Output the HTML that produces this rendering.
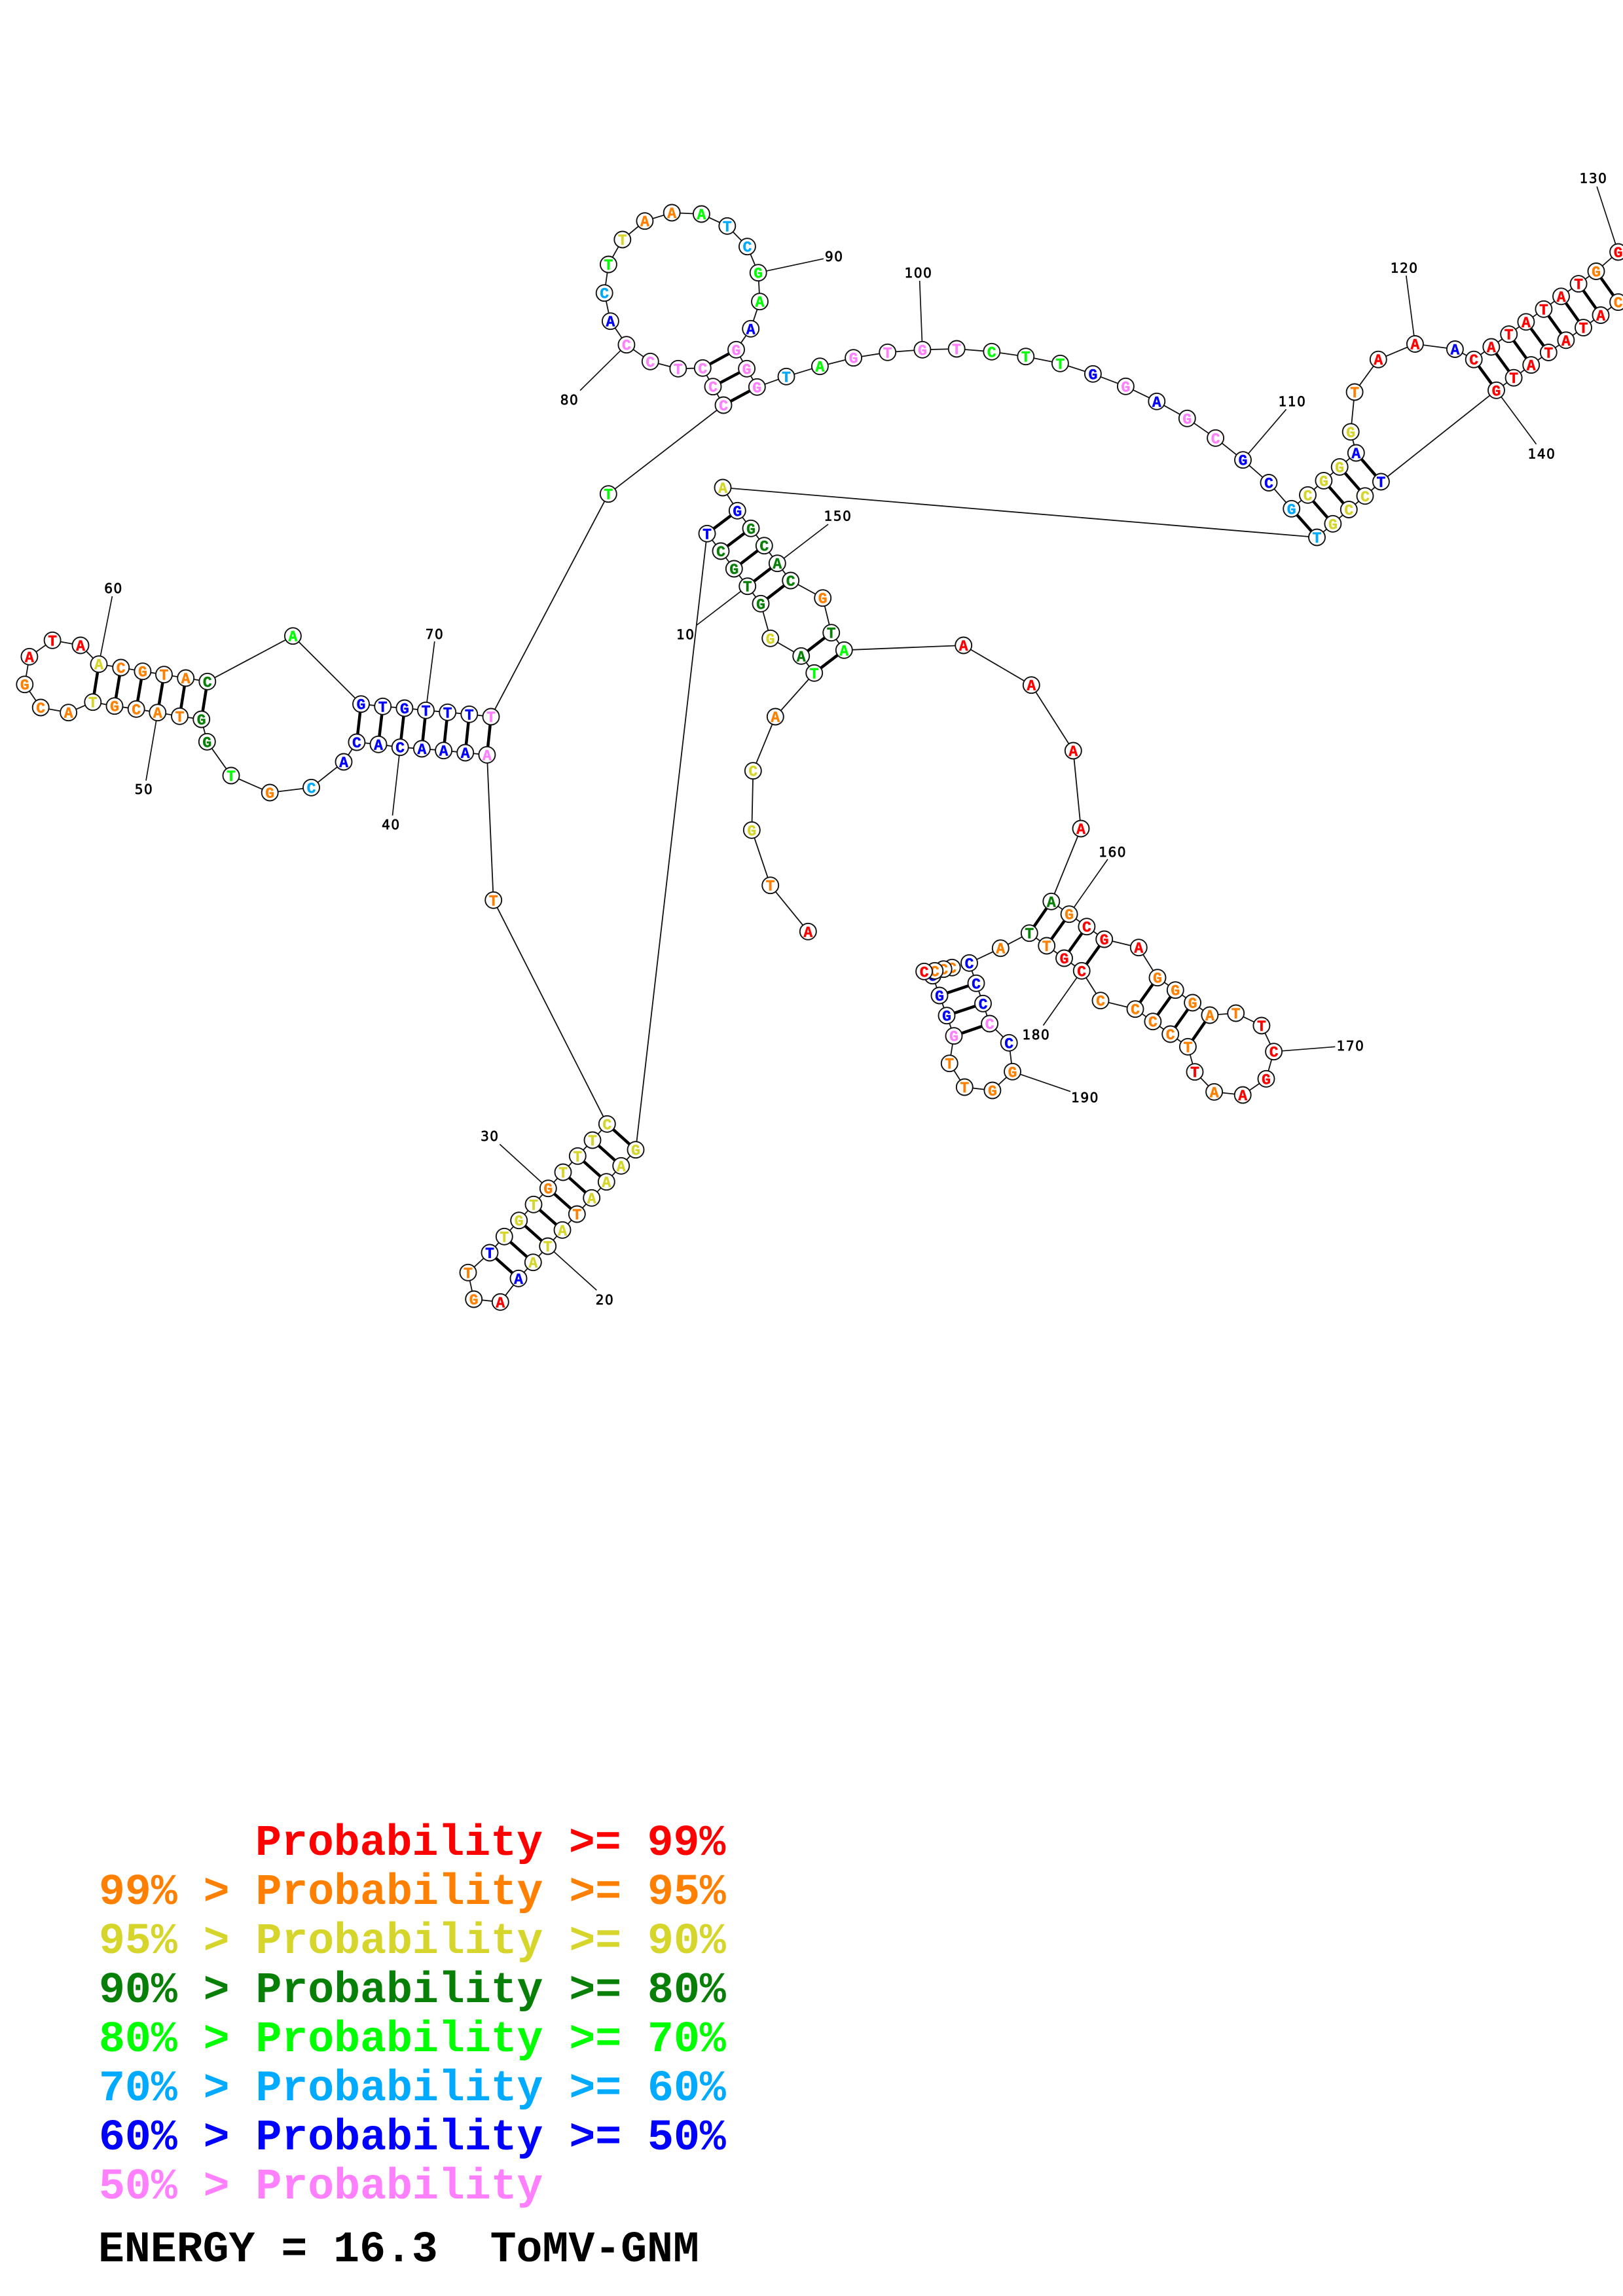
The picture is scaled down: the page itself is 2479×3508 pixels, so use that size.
<!DOCTYPE html>
<html><head><meta charset="utf-8"><title>ToMV-GNM</title>
<style>
html,body{margin:0;padding:0;background:#fff}
svg{display:block}
.bb,.ln{fill:none;stroke:#111;stroke-width:1.8}
.ln{stroke-width:1.7}
.pr{fill:none;stroke:#000;stroke-width:4.5}
.n circle,circle.n{fill:#fff;stroke:#111;stroke-width:1.9}
.t text,text.t{font:bold 23px "Liberation Mono",monospace;text-anchor:middle;stroke-width:.5}
.r{fill:#f00;stroke:#f00}.o{fill:#ff8000;stroke:#ff8000}.y{fill:#d5d52b;stroke:#d5d52b}.d{fill:#088008;stroke:#088008}
.g{fill:#0f0;stroke:#0f0}.s{fill:#0af;stroke:#0af}.b{fill:#00f;stroke:#00f}.p{fill:#ff80ff;stroke:#ff80ff}
.lb text{font:20px "DejaVu Sans",sans-serif;text-anchor:middle;fill:#000;stroke:#000;stroke-width:.7;letter-spacing:1.5px}
.lg text{font:bold 66.5px "Liberation Mono",monospace;white-space:pre;stroke:none}
.lg .r{fill:#f00}.lg .o{fill:#ff8000}.lg .y{fill:#d5d52b}.lg .d{fill:#088008}.lg .g{fill:#0f0}.lg .s{fill:#0af}.lg .b{fill:#00f}.lg .p{fill:#ff80ff}
</style></head><body>
<svg xmlns="http://www.w3.org/2000/svg" width="2479" height="3508" viewBox="0 0 2479 3508">
<rect width="2479" height="3508" fill="#fff"/>
<polyline class="bb" points="1234.3,1423.3 1176.7,1352.7 1148.3,1268.3 1150.3,1177.7 1184.3,1095 1243.7,1028.3 1223.7,1002.3 1176.7,975.3 1162,922.3 1141.7,895.7 1121.3,869 1101,842 1080,815.3 971,1756.7 948.7,1781.3 926.3,1805.7 903.7,1830.3 881.3,1855 859,1879.3 836.7,1904 814.3,1928.7 792,1953.3 764.3,1989.3 723.7,1985 715,1944.3 748,1914 770.3,1889.3 792.7,1864.7 815,1840.3 837.3,1815.7 860,1791 882.3,1766.3 905,1742 927.3,1717.3 753.7,1375.3 743.9,1153.3 710.7,1150 677.6,1146.7 644.4,1144 611.2,1141.7 578,1137.3 544.9,1134 525,1164 475.5,1203.3 412.2,1211 353,1185 316.3,1133.3 307.7,1099 274.5,1094.3 240.8,1088.7 208.2,1083.3 175,1078.7 141.8,1072.7 104.6,1088.7 62.2,1081 37.8,1045.7 44.9,1003.3 80.1,978.3 123,986 151,1014.7 184.7,1020 217.9,1025.7 250.5,1030.7 283.7,1036 316.8,1041.3 447.4,971.7 551.5,1075.7 584.7,1079.3 617.9,1082 650.5,1085.3 683.7,1088.3 716.8,1091.3 750,1095 929.3,754.7 1105,619 1089,590.7 1073.3,562.3 1035.8,563.3 993.3,552.3 956.9,526.7 932.4,490.7 923.2,447.7 929.4,404 950.8,366 984.9,337.7 1026.2,325 1071.4,327 1110.8,345.3 1141.4,376.7 1158.2,416.7 1160.5,460.7 1146.7,502.3 1124.5,534.3 1140.6,563.3 1156.3,591.3 1201,575.3 1252.4,559.7 1303.6,546.7 1355.7,538.3 1408.9,534.3 1461.2,533 1514.8,537.3 1566.8,544.7 1619.4,555.3 1669.4,571.3 1719.4,590.3 1766.8,613.3 1813.3,639.3 1856.6,669.3 1898.5,702.7 1938,737.5 1972.7,777.3 1997.5,756.3 2021.9,734.4 2046.2,713.4 2071.3,692 2063.2,659.8 2069.1,599 2105.3,549.2 2161.4,525.5 2222.4,533.5 2251.2,549.2 2277.8,530 2304.7,510.6 2330.9,491.8 2357.9,472.3 2384.5,452.8 2411.1,433.6 2438,414.5 2471.6,385 2510,350 2510,440 2471.6,461.6 2445,481.5 2418.5,500.6 2391.9,519.8 2365.3,538.5 2338.7,557.6 2312.1,577.2 2285.5,596.3 2109.4,736 2085,757.8 2060.3,778.5 2035.9,800.3 2011.5,821 1104,745 1126.3,780.3 1147,807.3 1167.3,833.7 1187.3,860.7 1207.7,887 1256.7,913.7 1269.7,966.7 1289.3,993.3 1471.7,986 1575.3,1046.7 1639.3,1147 1651,1266 1605.8,1377.3 1633.1,1396.7 1659.9,1415.7 1686.7,1435 1739.3,1447.7 1768,1493.7 1795.3,1512.7 1821.6,1532 1847.9,1551 1887.7,1548 1926.9,1567 1945.6,1606.7 1934,1648.3 1898.2,1673 1854.6,1668.3 1825,1637.7 1814.4,1599.3 1787.7,1580 1760.9,1560.7 1734,1541.7 1681,1528.7 1652.2,1483.3 1625.5,1464 1598.7,1445 1572.3,1425.7 1528.3,1448.7 1480.5,1471.3 1491,1502.3 1501.5,1533.3 1511.6,1564 1541.2,1593.3 1546.5,1637.3 1515.9,1666 1473.3,1661 1450.3,1624.7 1457,1582.7 1446,1551.7 1435,1521 1424.5,1490.7 1454.2,1478.3 1441.2,1480.7 1427.8,1483.3 1411.6,1484.3"/>
<path class="pr" d="M1126.3 780.3L1080 815.3M1147 807.3L1101 842M1167.3 833.7L1121.3 869M1187.3 860.7L1141.7 895.7M1207.7 887L1162 922.3M1269.7 966.7L1223.7 1002.3M1289.3 993.3L1243.7 1028.3M971 1756.7L927.3 1717.3M948.7 1781.3L905 1742M926.3 1805.7L882.3 1766.3M903.7 1830.3L860 1791M881.3 1855L837.3 1815.7M859 1879.3L815 1840.3M836.7 1904L792.7 1864.7M814.3 1928.7L770.3 1889.3M792 1953.3L748 1914M743.9 1153.3L750 1095M710.7 1150L716.8 1091.3M677.6 1146.7L683.7 1088.3M644.4 1144L650.5 1085.3M611.2 1141.7L617.9 1082M578 1137.3L584.7 1079.3M544.9 1134L551.5 1075.7M307.7 1099L316.8 1041.3M274.5 1094.3L283.7 1036M240.8 1088.7L250.5 1030.7M208.2 1083.3L217.9 1025.7M175 1078.7L184.7 1020M141.8 1072.7L151 1014.7M1105 619L1156.3 591.3M1089 590.7L1140.6 563.3M1073.3 562.3L1124.5 534.3M1972.7 777.3L2011.5 821M1997.5 756.3L2035.9 800.3M2021.9 734.4L2060.3 778.5M2046.2 713.4L2085 757.8M2071.3 692L2109.4 736M2251.2 549.2L2285.5 596.3M2277.8 530L2312.1 577.2M2304.7 510.6L2338.7 557.6M2330.9 491.8L2365.3 538.5M2357.9 472.3L2391.9 519.8M2384.5 452.8L2418.5 500.6M2411.1 433.6L2445 481.5M2438 414.5L2471.6 461.6M1605.8 1377.3L1572.3 1425.7M1633.1 1396.7L1598.7 1445M1659.9 1415.7L1625.5 1464M1686.7 1435L1652.2 1483.3M1768 1493.7L1734 1541.7M1795.3 1512.7L1760.9 1560.7M1821.6 1532L1787.7 1580M1847.9 1551L1814.4 1599.3M1491 1502.3L1435 1521M1501.5 1533.3L1446 1551.7M1511.6 1564L1457 1582.7"/>
<path class="ln" d="M171.4 911L151 1014.7M223 1192.7L240.8 1088.7M663.8 980L650.5 1085.3M599.5 1246L611.2 1141.7M886 596.7L956.9 526.7M1258 395.3L1158.2 416.7M1404.7 429L1408.9 534.3M1964.6 625.4L1898.5 702.7M2147.8 421L2161.4 525.5M2439.1 285L2471.6 385M2346.5 678.6L2285.5 596.3M1265 801L1187.3 860.7M1064.3 955L1141.7 895.7M911.3 1971.3L836.7 1904M763.3 1748.3L837.3 1815.7M1692 1312.7L1633.1 1396.7M2039.3 1599.3L1945.6 1606.7M1593.4 1566.7L1652.2 1483.3M1635 1667.7L1546.5 1637.3"/>
<g class="lb">
<text x="173.5" y="906">60</text><text x="220" y="1213">50</text><text x="664" y="976">70</text><text x="597.4" y="1267">40</text>
<text x="870" y="618">80</text><text x="1274.2" y="399">90</text><text x="1403" y="424">100</text><text x="1974" y="620.5">110</text><text x="2145.2" y="416.5">120</text><text x="2434" y="279.5">130</text><text x="2355" y="700.5">140</text><text x="1280" y="795.5">150</text><text x="1047.3" y="976.5">10</text><text x="924" y="1993">20</text><text x="748.3" y="1743">30</text><text x="1699.6" y="1309">160</text><text x="2063" y="1605">170</text><text x="1582.9" y="1588">180</text><text x="1657.5" y="1684">190</text>
</g>
<g class="n">
<circle cx="1234.3" cy="1423.3" r="12.5"/><circle cx="1176.7" cy="1352.7" r="12.5"/><circle cx="1148.3" cy="1268.3" r="12.5"/><circle cx="1150.3" cy="1177.7" r="12.5"/><circle cx="1184.3" cy="1095" r="12.5"/><circle cx="1243.7" cy="1028.3" r="12.5"/><circle cx="1223.7" cy="1002.3" r="12.5"/><circle cx="1176.7" cy="975.3" r="12.5"/><circle cx="1162" cy="922.3" r="12.5"/><circle cx="1141.7" cy="895.7" r="12.5"/><circle cx="1121.3" cy="869" r="12.5"/><circle cx="1101" cy="842" r="12.5"/><circle cx="1080" cy="815.3" r="12.5"/><circle cx="971" cy="1756.7" r="12.5"/><circle cx="948.7" cy="1781.3" r="12.5"/><circle cx="926.3" cy="1805.7" r="12.5"/><circle cx="903.7" cy="1830.3" r="12.5"/><circle cx="881.3" cy="1855" r="12.5"/><circle cx="859" cy="1879.3" r="12.5"/><circle cx="836.7" cy="1904" r="12.5"/><circle cx="814.3" cy="1928.7" r="12.5"/><circle cx="792" cy="1953.3" r="12.5"/><circle cx="764.3" cy="1989.3" r="12.5"/><circle cx="723.7" cy="1985" r="12.5"/><circle cx="715" cy="1944.3" r="12.5"/><circle cx="748" cy="1914" r="12.5"/><circle cx="770.3" cy="1889.3" r="12.5"/><circle cx="792.7" cy="1864.7" r="12.5"/><circle cx="815" cy="1840.3" r="12.5"/><circle cx="837.3" cy="1815.7" r="12.5"/><circle cx="860" cy="1791" r="12.5"/><circle cx="882.3" cy="1766.3" r="12.5"/><circle cx="905" cy="1742" r="12.5"/><circle cx="927.3" cy="1717.3" r="12.5"/><circle cx="753.7" cy="1375.3" r="12.5"/><circle cx="743.9" cy="1153.3" r="12.5"/><circle cx="710.7" cy="1150" r="12.5"/><circle cx="677.6" cy="1146.7" r="12.5"/><circle cx="644.4" cy="1144" r="12.5"/><circle cx="611.2" cy="1141.7" r="12.5"/><circle cx="578" cy="1137.3" r="12.5"/><circle cx="544.9" cy="1134" r="12.5"/><circle cx="525" cy="1164" r="12.5"/><circle cx="475.5" cy="1203.3" r="12.5"/><circle cx="412.2" cy="1211" r="12.5"/><circle cx="353" cy="1185" r="12.5"/><circle cx="316.3" cy="1133.3" r="12.5"/><circle cx="307.7" cy="1099" r="12.5"/><circle cx="274.5" cy="1094.3" r="12.5"/><circle cx="240.8" cy="1088.7" r="12.5"/><circle cx="208.2" cy="1083.3" r="12.5"/><circle cx="175" cy="1078.7" r="12.5"/><circle cx="141.8" cy="1072.7" r="12.5"/><circle cx="104.6" cy="1088.7" r="12.5"/><circle cx="62.2" cy="1081" r="12.5"/><circle cx="37.8" cy="1045.7" r="12.5"/><circle cx="44.9" cy="1003.3" r="12.5"/><circle cx="80.1" cy="978.3" r="12.5"/><circle cx="123" cy="986" r="12.5"/><circle cx="151" cy="1014.7" r="12.5"/><circle cx="184.7" cy="1020" r="12.5"/><circle cx="217.9" cy="1025.7" r="12.5"/><circle cx="250.5" cy="1030.7" r="12.5"/><circle cx="283.7" cy="1036" r="12.5"/><circle cx="316.8" cy="1041.3" r="12.5"/><circle cx="447.4" cy="971.7" r="12.5"/><circle cx="551.5" cy="1075.7" r="12.5"/><circle cx="584.7" cy="1079.3" r="12.5"/><circle cx="617.9" cy="1082" r="12.5"/><circle cx="650.5" cy="1085.3" r="12.5"/><circle cx="683.7" cy="1088.3" r="12.5"/><circle cx="716.8" cy="1091.3" r="12.5"/><circle cx="750" cy="1095" r="12.5"/><circle cx="929.3" cy="754.7" r="12.5"/><circle cx="1105" cy="619" r="12.5"/><circle cx="1089" cy="590.7" r="12.5"/><circle cx="1073.3" cy="562.3" r="12.5"/><circle cx="1035.8" cy="563.3" r="12.5"/><circle cx="993.3" cy="552.3" r="12.5"/><circle cx="956.9" cy="526.7" r="12.5"/><circle cx="932.4" cy="490.7" r="12.5"/><circle cx="923.2" cy="447.7" r="12.5"/><circle cx="929.4" cy="404" r="12.5"/><circle cx="950.8" cy="366" r="12.5"/><circle cx="984.9" cy="337.7" r="12.5"/><circle cx="1026.2" cy="325" r="12.5"/><circle cx="1071.4" cy="327" r="12.5"/><circle cx="1110.8" cy="345.3" r="12.5"/><circle cx="1141.4" cy="376.7" r="12.5"/><circle cx="1158.2" cy="416.7" r="12.5"/><circle cx="1160.5" cy="460.7" r="12.5"/><circle cx="1146.7" cy="502.3" r="12.5"/><circle cx="1124.5" cy="534.3" r="12.5"/><circle cx="1140.6" cy="563.3" r="12.5"/><circle cx="1156.3" cy="591.3" r="12.5"/><circle cx="1201" cy="575.3" r="12.5"/><circle cx="1252.4" cy="559.7" r="12.5"/><circle cx="1303.6" cy="546.7" r="12.5"/><circle cx="1355.7" cy="538.3" r="12.5"/><circle cx="1408.9" cy="534.3" r="12.5"/><circle cx="1461.2" cy="533" r="12.5"/><circle cx="1514.8" cy="537.3" r="12.5"/><circle cx="1566.8" cy="544.7" r="12.5"/><circle cx="1619.4" cy="555.3" r="12.5"/><circle cx="1669.4" cy="571.3" r="12.5"/><circle cx="1719.4" cy="590.3" r="12.5"/><circle cx="1766.8" cy="613.3" r="12.5"/><circle cx="1813.3" cy="639.3" r="12.5"/><circle cx="1856.6" cy="669.3" r="12.5"/><circle cx="1898.5" cy="702.7" r="12.5"/><circle cx="1938" cy="737.5" r="12.5"/><circle cx="1972.7" cy="777.3" r="12.5"/><circle cx="1997.5" cy="756.3" r="12.5"/><circle cx="2021.9" cy="734.4" r="12.5"/><circle cx="2046.2" cy="713.4" r="12.5"/><circle cx="2071.3" cy="692" r="12.5"/><circle cx="2063.2" cy="659.8" r="12.5"/><circle cx="2069.1" cy="599" r="12.5"/><circle cx="2105.3" cy="549.2" r="12.5"/><circle cx="2161.4" cy="525.5" r="12.5"/><circle cx="2222.4" cy="533.5" r="12.5"/><circle cx="2251.2" cy="549.2" r="12.5"/><circle cx="2277.8" cy="530" r="12.5"/><circle cx="2304.7" cy="510.6" r="12.5"/><circle cx="2330.9" cy="491.8" r="12.5"/><circle cx="2357.9" cy="472.3" r="12.5"/><circle cx="2384.5" cy="452.8" r="12.5"/><circle cx="2411.1" cy="433.6" r="12.5"/><circle cx="2438" cy="414.5" r="12.5"/><circle cx="2471.6" cy="385" r="12.5"/><circle cx="2471.6" cy="461.6" r="12.5"/><circle cx="2445" cy="481.5" r="12.5"/><circle cx="2418.5" cy="500.6" r="12.5"/><circle cx="2391.9" cy="519.8" r="12.5"/><circle cx="2365.3" cy="538.5" r="12.5"/><circle cx="2338.7" cy="557.6" r="12.5"/><circle cx="2312.1" cy="577.2" r="12.5"/><circle cx="2285.5" cy="596.3" r="12.5"/><circle cx="2109.4" cy="736" r="12.5"/><circle cx="2085" cy="757.8" r="12.5"/><circle cx="2060.3" cy="778.5" r="12.5"/><circle cx="2035.9" cy="800.3" r="12.5"/><circle cx="2011.5" cy="821" r="12.5"/><circle cx="1104" cy="745" r="12.5"/><circle cx="1126.3" cy="780.3" r="12.5"/><circle cx="1147" cy="807.3" r="12.5"/><circle cx="1167.3" cy="833.7" r="12.5"/><circle cx="1187.3" cy="860.7" r="12.5"/><circle cx="1207.7" cy="887" r="12.5"/><circle cx="1256.7" cy="913.7" r="12.5"/><circle cx="1269.7" cy="966.7" r="12.5"/><circle cx="1289.3" cy="993.3" r="12.5"/><circle cx="1471.7" cy="986" r="12.5"/><circle cx="1575.3" cy="1046.7" r="12.5"/><circle cx="1639.3" cy="1147" r="12.5"/><circle cx="1651" cy="1266" r="12.5"/><circle cx="1605.8" cy="1377.3" r="12.5"/><circle cx="1633.1" cy="1396.7" r="12.5"/><circle cx="1659.9" cy="1415.7" r="12.5"/><circle cx="1686.7" cy="1435" r="12.5"/><circle cx="1739.3" cy="1447.7" r="12.5"/><circle cx="1768" cy="1493.7" r="12.5"/><circle cx="1795.3" cy="1512.7" r="12.5"/><circle cx="1821.6" cy="1532" r="12.5"/><circle cx="1847.9" cy="1551" r="12.5"/><circle cx="1887.7" cy="1548" r="12.5"/><circle cx="1926.9" cy="1567" r="12.5"/><circle cx="1945.6" cy="1606.7" r="12.5"/><circle cx="1934" cy="1648.3" r="12.5"/><circle cx="1898.2" cy="1673" r="12.5"/><circle cx="1854.6" cy="1668.3" r="12.5"/><circle cx="1825" cy="1637.7" r="12.5"/><circle cx="1814.4" cy="1599.3" r="12.5"/><circle cx="1787.7" cy="1580" r="12.5"/><circle cx="1760.9" cy="1560.7" r="12.5"/><circle cx="1734" cy="1541.7" r="12.5"/><circle cx="1681" cy="1528.7" r="12.5"/><circle cx="1652.2" cy="1483.3" r="12.5"/><circle cx="1625.5" cy="1464" r="12.5"/><circle cx="1598.7" cy="1445" r="12.5"/><circle cx="1572.3" cy="1425.7" r="12.5"/><circle cx="1528.3" cy="1448.7" r="12.5"/><circle cx="1480.5" cy="1471.3" r="12.5"/><circle cx="1491" cy="1502.3" r="12.5"/><circle cx="1501.5" cy="1533.3" r="12.5"/><circle cx="1511.6" cy="1564" r="12.5"/><circle cx="1541.2" cy="1593.3" r="12.5"/><circle cx="1546.5" cy="1637.3" r="12.5"/><circle cx="1515.9" cy="1666" r="12.5"/><circle cx="1473.3" cy="1661" r="12.5"/><circle cx="1450.3" cy="1624.7" r="12.5"/><circle cx="1457" cy="1582.7" r="12.5"/><circle cx="1446" cy="1551.7" r="12.5"/><circle cx="1435" cy="1521" r="12.5"/>
</g>
<g class="t" transform="translate(0,8)">
<text class="r" x="1234.3" y="1423.3">A</text><text class="o" x="1176.7" y="1352.7">T</text><text class="y" x="1148.3" y="1268.3">G</text><text class="y" x="1150.3" y="1177.7">C</text><text class="o" x="1184.3" y="1095">A</text><text class="g" x="1243.7" y="1028.3">T</text><text class="d" x="1223.7" y="1002.3">A</text><text class="y" x="1176.7" y="975.3">G</text><text class="d" x="1162" y="922.3">G</text><text class="d" x="1141.7" y="895.7">T</text><text class="d" x="1121.3" y="869">G</text><text class="d" x="1101" y="842">C</text><text class="b" x="1080" y="815.3">T</text><text class="y" x="971" y="1756.7">G</text><text class="y" x="948.7" y="1781.3">A</text><text class="y" x="926.3" y="1805.7">A</text><text class="y" x="903.7" y="1830.3">A</text><text class="o" x="881.3" y="1855">T</text><text class="y" x="859" y="1879.3">A</text><text class="y" x="836.7" y="1904">T</text><text class="y" x="814.3" y="1928.7">A</text><text class="b" x="792" y="1953.3">A</text><text class="r" x="764.3" y="1989.3">A</text><text class="o" x="723.7" y="1985">G</text><text class="o" x="715" y="1944.3">T</text><text class="b" x="748" y="1914">T</text><text class="y" x="770.3" y="1889.3">T</text><text class="y" x="792.7" y="1864.7">G</text><text class="y" x="815" y="1840.3">T</text><text class="o" x="837.3" y="1815.7">G</text><text class="y" x="860" y="1791">T</text><text class="y" x="882.3" y="1766.3">T</text><text class="y" x="905" y="1742">T</text><text class="y" x="927.3" y="1717.3">C</text><text class="o" x="753.7" y="1375.3">T</text><text class="p" x="743.9" y="1153.3">A</text><text class="b" x="710.7" y="1150">A</text><text class="b" x="677.6" y="1146.7">A</text><text class="b" x="644.4" y="1144">A</text><text class="b" x="611.2" y="1141.7">C</text><text class="b" x="578" y="1137.3">A</text><text class="b" x="544.9" y="1134">C</text><text class="b" x="525" y="1164">A</text><text class="s" x="475.5" y="1203.3">C</text><text class="o" x="412.2" y="1211">G</text><text class="g" x="353" y="1185">T</text><text class="d" x="316.3" y="1133.3">G</text><text class="d" x="307.7" y="1099">G</text><text class="o" x="274.5" y="1094.3">T</text><text class="o" x="240.8" y="1088.7">A</text><text class="o" x="208.2" y="1083.3">C</text><text class="o" x="175" y="1078.7">G</text><text class="y" x="141.8" y="1072.7">T</text><text class="o" x="104.6" y="1088.7">A</text><text class="o" x="62.2" y="1081">C</text><text class="o" x="37.8" y="1045.7">G</text><text class="r" x="44.9" y="1003.3">A</text><text class="r" x="80.1" y="978.3">T</text><text class="r" x="123" y="986">A</text><text class="y" x="151" y="1014.7">A</text><text class="o" x="184.7" y="1020">C</text><text class="o" x="217.9" y="1025.7">G</text><text class="o" x="250.5" y="1030.7">T</text><text class="o" x="283.7" y="1036">A</text><text class="d" x="316.8" y="1041.3">C</text><text class="g" x="447.4" y="971.7">A</text><text class="b" x="551.5" y="1075.7">G</text><text class="b" x="584.7" y="1079.3">T</text><text class="b" x="617.9" y="1082">G</text><text class="b" x="650.5" y="1085.3">T</text><text class="b" x="683.7" y="1088.3">T</text><text class="b" x="716.8" y="1091.3">T</text><text class="p" x="750" y="1095">T</text><text class="g" x="929.3" y="754.7">T</text><text class="p" x="1105" y="619">C</text><text class="p" x="1089" y="590.7">C</text><text class="p" x="1073.3" y="562.3">C</text><text class="p" x="1035.8" y="563.3">T</text><text class="p" x="993.3" y="552.3">C</text><text class="p" x="956.9" y="526.7">C</text><text class="b" x="932.4" y="490.7">A</text><text class="s" x="923.2" y="447.7">C</text><text class="g" x="929.4" y="404">T</text><text class="y" x="950.8" y="366">T</text><text class="o" x="984.9" y="337.7">A</text><text class="o" x="1026.2" y="325">A</text><text class="g" x="1071.4" y="327">A</text><text class="s" x="1110.8" y="345.3">T</text><text class="s" x="1141.4" y="376.7">C</text><text class="g" x="1158.2" y="416.7">G</text><text class="g" x="1160.5" y="460.7">A</text><text class="b" x="1146.7" y="502.3">A</text><text class="p" x="1124.5" y="534.3">G</text><text class="p" x="1140.6" y="563.3">G</text><text class="p" x="1156.3" y="591.3">G</text><text class="s" x="1201" y="575.3">T</text><text class="g" x="1252.4" y="559.7">A</text><text class="p" x="1303.6" y="546.7">G</text><text class="p" x="1355.7" y="538.3">T</text><text class="p" x="1408.9" y="534.3">G</text><text class="p" x="1461.2" y="533">T</text><text class="g" x="1514.8" y="537.3">C</text><text class="g" x="1566.8" y="544.7">T</text><text class="g" x="1619.4" y="555.3">T</text><text class="b" x="1669.4" y="571.3">G</text><text class="p" x="1719.4" y="590.3">G</text><text class="b" x="1766.8" y="613.3">A</text><text class="p" x="1813.3" y="639.3">G</text><text class="p" x="1856.6" y="669.3">C</text><text class="b" x="1898.5" y="702.7">G</text><text class="b" x="1938" y="737.5">C</text><text class="s" x="1972.7" y="777.3">G</text><text class="y" x="1997.5" y="756.3">C</text><text class="y" x="2021.9" y="734.4">G</text><text class="y" x="2046.2" y="713.4">G</text><text class="b" x="2071.3" y="692">A</text><text class="y" x="2063.2" y="659.8">G</text><text class="o" x="2069.1" y="599">T</text><text class="r" x="2105.3" y="549.2">A</text><text class="r" x="2161.4" y="525.5">A</text><text class="b" x="2222.4" y="533.5">A</text><text class="r" x="2251.2" y="549.2">C</text><text class="r" x="2277.8" y="530">A</text><text class="r" x="2304.7" y="510.6">T</text><text class="r" x="2330.9" y="491.8">A</text><text class="r" x="2357.9" y="472.3">T</text><text class="r" x="2384.5" y="452.8">A</text><text class="r" x="2411.1" y="433.6">T</text><text class="o" x="2438" y="414.5">G</text><text class="r" x="2471.6" y="385">G</text><text class="o" x="2471.6" y="461.6">C</text><text class="r" x="2445" y="481.5">A</text><text class="r" x="2418.5" y="500.6">T</text><text class="r" x="2391.9" y="519.8">A</text><text class="r" x="2365.3" y="538.5">T</text><text class="r" x="2338.7" y="557.6">A</text><text class="r" x="2312.1" y="577.2">T</text><text class="r" x="2285.5" y="596.3">G</text><text class="b" x="2109.4" y="736">T</text><text class="y" x="2085" y="757.8">C</text><text class="y" x="2060.3" y="778.5">C</text><text class="y" x="2035.9" y="800.3">G</text><text class="s" x="2011.5" y="821">T</text><text class="y" x="1104" y="745">A</text><text class="b" x="1126.3" y="780.3">G</text><text class="d" x="1147" y="807.3">G</text><text class="d" x="1167.3" y="833.7">C</text><text class="d" x="1187.3" y="860.7">A</text><text class="d" x="1207.7" y="887">C</text><text class="o" x="1256.7" y="913.7">G</text><text class="d" x="1269.7" y="966.7">T</text><text class="g" x="1289.3" y="993.3">A</text><text class="r" x="1471.7" y="986">A</text><text class="r" x="1575.3" y="1046.7">A</text><text class="r" x="1639.3" y="1147">A</text><text class="r" x="1651" y="1266">A</text><text class="d" x="1605.8" y="1377.3">A</text><text class="o" x="1633.1" y="1396.7">G</text><text class="r" x="1659.9" y="1415.7">C</text><text class="r" x="1686.7" y="1435">G</text><text class="r" x="1739.3" y="1447.7">A</text><text class="o" x="1768" y="1493.7">G</text><text class="o" x="1795.3" y="1512.7">G</text><text class="o" x="1821.6" y="1532">G</text><text class="o" x="1847.9" y="1551">A</text><text class="o" x="1887.7" y="1548">T</text><text class="r" x="1926.9" y="1567">T</text><text class="r" x="1945.6" y="1606.7">C</text><text class="r" x="1934" y="1648.3">G</text><text class="r" x="1898.2" y="1673">A</text><text class="o" x="1854.6" y="1668.3">A</text><text class="r" x="1825" y="1637.7">T</text><text class="o" x="1814.4" y="1599.3">T</text><text class="o" x="1787.7" y="1580">C</text><text class="o" x="1760.9" y="1560.7">C</text><text class="o" x="1734" y="1541.7">C</text><text class="o" x="1681" y="1528.7">C</text><text class="r" x="1652.2" y="1483.3">C</text><text class="r" x="1625.5" y="1464">G</text><text class="o" x="1598.7" y="1445">T</text><text class="d" x="1572.3" y="1425.7">T</text><text class="o" x="1528.3" y="1448.7">A</text><text class="b" x="1480.5" y="1471.3">C</text><text class="b" x="1491" y="1502.3">C</text><text class="b" x="1501.5" y="1533.3">C</text><text class="p" x="1511.6" y="1564">C</text><text class="b" x="1541.2" y="1593.3">C</text><text class="o" x="1546.5" y="1637.3">G</text><text class="o" x="1515.9" y="1666">G</text><text class="o" x="1473.3" y="1661">T</text><text class="o" x="1450.3" y="1624.7">T</text><text class="p" x="1457" y="1582.7">G</text><text class="b" x="1446" y="1551.7">G</text><text class="b" x="1435" y="1521">G</text>
</g>
<circle cx="1424.5" cy="1490.7" r="12.5" style="fill:#fff;stroke:#111;stroke-width:1.9"/><text class="t b" x="1424.5" y="1498.7">G</text>
<circle cx="1454.2" cy="1478.3" r="12.5" style="fill:#fff;stroke:#111;stroke-width:1.9"/><text class="t o" x="1454.2" y="1486.3">C</text>
<circle cx="1441.2" cy="1480.7" r="12.5" style="fill:#fff;stroke:#111;stroke-width:1.9"/><text class="t o" x="1441.2" y="1488.7">C</text>
<circle cx="1427.8" cy="1483.3" r="12.5" style="fill:#fff;stroke:#111;stroke-width:1.9"/><text class="t o" x="1427.8" y="1491.3">C</text>
<circle cx="1411.6" cy="1484.3" r="12.5" style="fill:#fff;stroke:#111;stroke-width:1.9"/><text class="t r" x="1411.6" y="1492.3">C</text>
<g class="lg">
<text class="r" x="390" y="2834">Probability &gt;= 99%</text>
<text class="o" x="151" y="2909">99% &gt; Probability &gt;= 95%</text>
<text class="y" x="151" y="2984">95% &gt; Probability &gt;= 90%</text>
<text class="d" x="151" y="3059">90% &gt; Probability &gt;= 80%</text>
<text class="g" x="151" y="3134">80% &gt; Probability &gt;= 70%</text>
<text class="s" x="151" y="3209">70% &gt; Probability &gt;= 60%</text>
<text class="b" x="151" y="3284">60% &gt; Probability &gt;= 50%</text>
<text class="p" x="151" y="3359">50% &gt; Probability</text>
<text fill="#000" x="150" y="3455">ENERGY = 16.3  ToMV-GNM</text>
</g>
</svg>
</body></html>
